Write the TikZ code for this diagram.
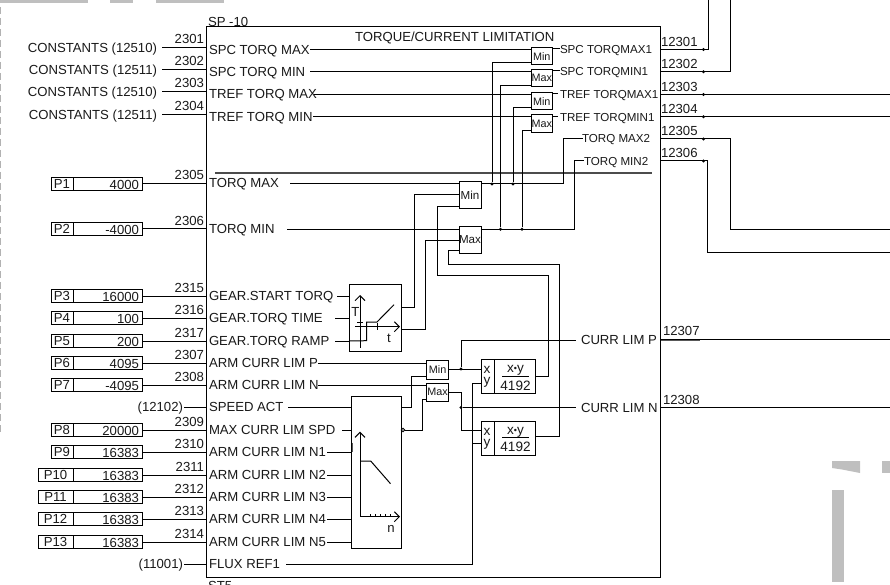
\documentclass[tikz,border=0pt]{standalone}
\usepackage{fontspec}
\setmainfont{Liberation Sans}
\usetikzlibrary{arrows.meta}
\tikzset{
  x=1pt,y=-1pt,
  wire/.style={draw=black,line width=1pt},
  frame/.style={draw=black,line width=1pt,fill=white,inner sep=0pt,outer sep=0pt,anchor=north west},
  pframe/.style={draw=black,line width=1pt,inner sep=0pt,outer sep=0pt,anchor=west,minimum height=13.5pt},
  txt/.style={inner sep=0pt,outer sep=0pt,anchor=base west,font=\fontsize{13.15}{15}\selectfont,text=black!90},
  txtr/.style={txt,anchor=base east},
  txtc/.style={txt,anchor=base},
  txtout/.style={txt,font=\fontsize{11.6}{14}\selectfont},
  txtmul/.style={txtc,font=\fontsize{13.6}{15}\selectfont},
  minitxt/.style={font=\fontsize{10.8}{12}\selectfont,text=black!90},
  midtxt/.style={font=\fontsize{11.6}{13}\selectfont,text=black!90},
  jdot/.style={circle,fill=black,inner sep=0pt,minimum size=3.3pt},
  edgemark/.style={fill=black!25,draw=none},
  axisline/.style={draw=black,line width=1pt,-{Straight Barb[length=5pt,width=10pt,line width=1pt]}},
}
% input pin: #1 id, #2 outer y, #3 number, #4 label, #5 inner y, #6 x where inner wire starts
\newcommand{\inpin}[6]{%
  \coordinate (i#1) at (206.5,#2);
  \coordinate (w#1) at (#6,#5);
  \node[txtr] (n#1) at (204,#2-3.5) {#3};
  \node[txt] (l#1) at (209,#5+4.5) {#4};
}
% parameter box: #1 id, #2 left x, #3 y, #4 P text, #5 value
\newcommand{\pbx}[5]{%
  \node[pframe,minimum width=142pt-#2pt] (p#1) at (#2,#3) {};
  \draw[line width=1pt] (73,#3-6.75) -- (73,#3+6.75);
  \node[txtc] (pl#1) at ({(#2+73)/2},#3+4.5) {#4};
  \node[txtr] (pv#1) at (139,#3+5.2) {#5};
}
% output pin: #1 id, #2 y, #3 number
\newcommand{\outpin}[3]{%
  \coordinate (o#1) at (660.5,#2);
  \node[jdot] (d#1) at (703.5,#2) {};
  \node[txt] (on#1) at (661,#2-3.2) {#3};
}
\begin{document}
\begin{tikzpicture}
\useasboundingbox (0,0) rectangle (890,585);
% fragments at the sheet edges
\fill[edgemark] (0,0) rectangle (88,3);
\fill[edgemark] (110,0) rectangle (133,3);
\fill[edgemark] (156,0) rectangle (224,3);
\draw[black!30,line width=1pt,dash pattern=on 7pt off 4pt] (0.5,7) -- (0.5,435);
\fill[edgemark] (832,461) -- (860,461) -- (860,473) -- (842,469.5) -- (832,468) -- cycle;
\fill[edgemark] (882,461) rectangle (890,473);
\fill[edgemark] (832,490) rectangle (844,582);

% main block
\node[frame,minimum width=454pt,minimum height=550.5pt] (main) at (206.5,27) {};
\node[txt] (sp) at (208,27) {SP -10};
\node[txt] (st) at (208,590) {ST5};
\node[txt] (title) at (355,41.5) {TORQUE/CURRENT LIMITATION};

% inputs
\inpin{1}{47.5}{2301}{SPC TORQ MAX}{50}{310}
\inpin{2}{69.5}{2302}{SPC TORQ MIN}{72}{310}
\inpin{3}{91.5}{2303}{TREF TORQ MAX}{94.5}{314}
\inpin{4}{114.5}{2304}{TREF TORQ MIN}{117}{313}
\inpin{5}{183.3}{2305}{TORQ MAX}{183.5}{290}
\inpin{6}{228.7}{2306}{TORQ MIN}{229}{287}
\inpin{15}{296}{2315}{GEAR.START TORQ}{296}{337}
\inpin{16}{318}{2316}{GEAR.TORQ TIME}{318}{335}
\inpin{17}{341}{2317}{GEAR.TORQ RAMP}{341}{335}
\inpin{7}{363}{2307}{ARM CURR LIM P}{363}{318}
\inpin{8}{385}{2308}{ARM CURR LIM N}{385}{318}
\inpin{9}{430}{2309}{MAX CURR LIM SPD}{430}{342}
\inpin{10}{452}{2310}{ARM CURR LIM N1}{452}{327}
\inpin{11}{475}{2311}{ARM CURR LIM N2}{475}{327}
\inpin{12}{497}{2312}{ARM CURR LIM N3}{497}{327}
\inpin{13}{519}{2313}{ARM CURR LIM N4}{519}{327}
\inpin{14}{542}{2314}{ARM CURR LIM N5}{542}{327}
\coordinate (ispd) at (206.5,407);
\coordinate (wspd) at (288,407);
\node[txt] (lspd) at (209,411.5) {SPEED ACT};
\coordinate (iflx) at (206.5,564);
\coordinate (wflx) at (286,564);
\node[txt] (lflx) at (209,568.5) {FLUX REF1};

% constants and references
\foreach \k/\yy/\cc in {1/47.5/12510,2/69.5/12511,3/91.5/12510,4/114.5/12511}{
  \node[txtr] (c\k) at (157,\yy+4.8) {CONSTANTS (\cc)};
  \draw[wire] (162,\yy) -- (i\k);
}
\node[txtr] (rspd) at (183,411.5) {(12102)};
\node[txtr] (rflx) at (183,568.5) {(11001)};
\draw[wire] (rspd.base east |- ispd) ++(1,0) -- (ispd);
\draw[wire] (rflx.base east |- iflx) ++(1,0) -- (iflx);

% parameter boxes
\pbx{1}{51}{184}{P1}{4000}
\pbx{2}{51}{229}{P2}{-4000}
\pbx{3}{51}{296}{P3}{16000}
\pbx{4}{51}{318}{P4}{100}
\pbx{5}{51}{341}{P5}{200}
\pbx{6}{51}{363}{P6}{4095}
\pbx{7}{51}{385}{P7}{-4095}
\pbx{8}{51}{430}{P8}{20000}
\pbx{9}{51}{452}{P9}{16383}
\pbx{10}{38}{475}{P10}{16383}
\pbx{11}{38}{497}{P11}{16383}
\pbx{12}{38}{519}{P12}{16383}
\pbx{13}{38}{542}{P13}{16383}
\foreach \p/\q in {1/5,2/6,3/15,4/16,5/17,6/7,7/8,8/9,9/10,10/11,11/12,12/13,13/14}{
  \draw[wire] (p\p.east |- i\q) -- (i\q);
}

% limiter blocks
\node[frame,minimum width=21.5pt,minimum height=17.5pt,minitxt] (mn1) at (531,47.5) {Min};
\node[frame,minimum width=21.5pt,minimum height=17.5pt,minitxt] (mx1) at (531,69.5) {Max};
\node[frame,minimum width=21.5pt,minimum height=17.5pt,minitxt] (mn2) at (531,92.5) {Min};
\node[frame,minimum width=21.5pt,minimum height=18.5pt,minitxt] (mx2) at (531,114.5) {Max};
\node[frame,minimum width=22pt,minimum height=26.5pt,midtxt] (mnb) at (459,181.7) {Min};
\node[frame,minimum width=22pt,minimum height=27pt,midtxt] (mxb) at (459,226) {Max};
\node[frame,minimum width=21.8pt,minimum height=18.7pt,minitxt] (mnc) at (426.7,360.3) {Min};
\node[frame,minimum width=21.8pt,minimum height=17.7pt,minitxt] (mxc) at (426.7,383.3) {Max};

% multipliers
\node[frame,minimum width=54.5pt,minimum height=33.6pt] (mua) at (481,359.7) {};
\node[frame,minimum width=54.5pt,minimum height=34pt] (mub) at (481,421) {};
\draw[line width=1pt] (494.5,359.7) -- (494.5,393.3);
\draw[line width=1pt] (494.5,421) -- (494.5,455);
\draw[line width=1pt] (502,376.7) -- (529,376.7);
\draw[line width=1pt] (502,437.7) -- (529,437.7);
\node[txtmul] (xa) at (487,373.7) {x};
\node[txtmul] (ya) at (487,384.5) {y};
\node[txtmul] (xya) at (515.5,372.7) {x\raisebox{1pt}{\fontsize{9}{9}\selectfont•}y};
\node[txtmul] (fa) at (515.5,390) {4192};
\node[txtmul] (xb) at (487,435.3) {x};
\node[txtmul] (yb) at (487,446.7) {y};
\node[txtmul] (xyb) at (515.5,434) {x\raisebox{1pt}{\fontsize{9}{9}\selectfont•}y};
\node[txtmul] (fb) at (515.5,451) {4192};

% ramp block
\node[frame,minimum width=52pt,minimum height=66.7pt] (ramp) at (349,284.3) {};
\draw[axisline] (360,347.7) -- (360,295);
\draw[axisline] (355,326.7) -- (400,326.7);
\draw[wire] (ramp.west |- w17) -- (366.5,340.7) -- (366.5,322) -- (377,322) -- (394,304.7);
\draw[line width=0.9pt] (357,322) -- (363,322) (377,323) -- (377,330);
\node[txtc] (rT) at (355.5,316) {T};
\node[txtc] (rt) at (389,342) {t};

% current-limit curve block
\node[frame,minimum width=50pt,minimum height=152pt] (curve) at (351,396.7) {};
\draw[axisline] (360,516.7) -- (360,431.7);
\draw[axisline] (360,516.7) -- (400,516.7);
\draw[wire] (360,461) -- (370.7,461) -- (390.5,483.7);
\foreach \xx in {370,375,380,385,390}{ \draw[line width=0.8pt] (\xx,516.7) -- (\xx,514); }
\node[txtc] (cn) at (391,532) {n};
\draw[line width=1.5pt,black!65] (352.5,442.5) -- (352.5,452);
\node[circle,draw=black,line width=0.8pt,fill=white,inner sep=0pt,minimum size=3.5pt] (inv) at (403,430) {};

% wires from labels to blocks
\foreach \k/\tgt in {1/mn1,2/mx1,3/mn2,4/mx2}{ \draw[wire] (w\k) -- (w\k -| \tgt.west); }
\foreach \k/\tgt in {5/mnb,6/mxb,7/mnc,8/mxc}{ \draw[wire] (w\k) -- (w\k -| \tgt.west); }
\foreach \k in {15,16,17}{ \draw[wire] (w\k) -- (w\k -| ramp.west); }
\foreach \k in {9,10,11,12,13,14}{ \draw[wire] (w\k) -- (w\k -| curve.west); }
\draw[wire] (wspd) -- (wspd -| curve.west);

% small limiter outputs
\foreach \tgt/\yy/\xe/\lab in {mn1/49/560/SPC TORQMAX1,mx1/71/560/SPC TORQMIN1,mn2/94/558/TREF TORQMAX1,mx2/117/558/TREF TORQMIN1}{
  \draw[wire] (\tgt.east |- 0,\yy) -- (\xe,\yy);
  \node[txtout] at (560,\yy+4.2) {\lab};
}

% thick rail
\draw[line width=1.5pt,black!70] (215,173) -- (652,173);

% torque limit distribution
\coordinate (q1) at (583,139);
\coordinate (q2) at (584,161);
\node[txtout] (tm1) at (582,142.6) {TORQ MAX2};
\node[txtout] (tm2) at (584,165.2) {TORQ MIN2};
\draw[wire] (mnb.east |- w5) -- (563,183.5) -- (563,139) -- (q1);
\draw[wire] (mxb.east |- w6) -- (574,229) -- (574,161) -- (q2);
\node[jdot] (j1) at (492,184) {};
\node[jdot] (j2) at (513,184) {};
\node[jdot] (j3) at (500.5,229.3) {};
\node[jdot] (j4) at (522,229.3) {};
\draw[wire] (j1) |- (mn1.west |- 0,63);
\draw[wire] (j2) |- (mn2.west |- 0,107.5);
\draw[wire] (j3) |- (mx1.west |- 0,85.5);
\draw[wire] (j4) |- (mx2.west |- 0,130.5);

% ramp outputs to Min / Max
\draw[wire] (ramp.east |- 0,307) -| (414,195) -- (mnb.west |- 0,195);
\draw[wire] (ramp.east |- 0,329.3) -| (425.5,240) -- (mxb.west |- 0,240);

% multiplier feedback
\draw[wire] (mnb.west |- 0,206.5) -- (437.5,206.5) -- (437.5,275.5) -- (548,275.5) -- (548,376) -- (mua.east |- 0,376);
\draw[wire] (mxb.west |- 0,250) -- (448.5,250) -- (448.5,264) -- (559,264) -- (559,436) -- (mub.east |- 0,436);

% curve outputs
\draw[wire] (curve.east |- wspd) -- (411.7,407) -- (411.7,376) -- (mnc.west |- 0,376);
\draw[wire] (inv) -- (422.7,430) -- (422.7,399.3) -- (mxc.west |- 0,399.3);

% current limits
\node[txt] (clp) at (581,344.7) {CURR LIM P};
\node[txt] (cln) at (581,412.7) {CURR LIM N};
\draw[wire] (mnc.east |- 0,369) -- (mua.west |- 0,369);
\node[jdot] (j5) at (461,369) {};
\draw[wire] (j5) |- (576,340.5);
\draw[wire] (mxc.east |- 0,392) -- (461,392) -- (461,430) -- (mub.west |- 0,430);
\node[jdot] (j6) at (461,407.5) {};
\draw[wire] (j6) -- (576,407.5);
\draw[wire] (wflx) -- (472,564) -- (472,383.3) -- (mua.west |- 0,383.3);
\draw[wire] (472,443.3) -- (mub.west |- 0,443.3);

% outputs
\outpin{1}{49.5}{12301}
\outpin{2}{71.7}{12302}
\outpin{3}{94.5}{12303}
\outpin{4}{116.7}{12304}
\outpin{5}{139}{12305}
\outpin{6}{161}{12306}
\coordinate (o7) at (660.5,339);
\coordinate (o8) at (660.5,407.5);
\node[txt] (on7) at (663,335.5) {12307};
\node[txt] (on8) at (663,404) {12308};
\coordinate (e3) at (890,94.5);
\coordinate (e4) at (890,116.7);
\coordinate (e5) at (890,229.5);
\coordinate (e6) at (890,252.5);
\coordinate (e7) at (890,339);
\coordinate (e8) at (890,407.5);
\coordinate (t1) at (708,0);
\coordinate (t2) at (730,0);
\draw[wire] (o1) -| (t1);
\draw[wire] (o2) -| (t2);
\draw[wire] (o3) -- (e3);
\draw[wire] (o4) -- (e4);
\draw[wire] (o5) -- (730,139) -- (730,229.5) -- (e5);
\draw[wire] (o6) -- (707.5,161) -- (707.5,252.5) -- (e6);
\draw[wire] (o7) -- (e7);
\draw[wire] (o8) -- (e8);
\draw[line width=1.5pt,black!65] (660.5,340.3) -- (700,340.3);
\end{tikzpicture}
\end{document}
